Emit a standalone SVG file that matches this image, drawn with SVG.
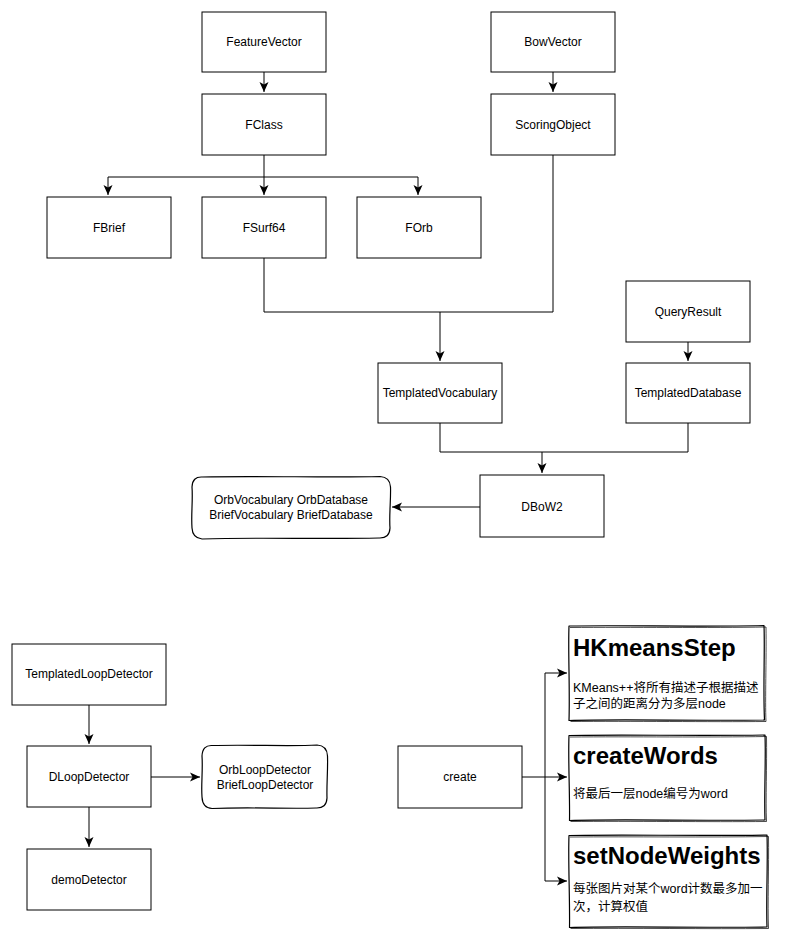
<svg xmlns="http://www.w3.org/2000/svg" width="800" height="941" viewBox="0 0 800 941">
<defs>
<marker id="arr" markerUnits="userSpaceOnUse" markerWidth="12" markerHeight="10" refX="10" refY="5" orient="auto">
<path d="M0,0.5 L10,5 L0,9.5 L2.5,5 Z" fill="#000"/>
</marker>
<style>
.box{fill:#fff;stroke:#000;stroke-width:1}
.sk{fill:#fff;stroke:#000;stroke-width:1.2;stroke-linejoin:round}
.sk2{fill:none;stroke:#000;stroke-width:0.7}
.c{fill:none;stroke:#000;stroke-width:1}
.t{font-family:"Liberation Sans","Noto Sans CJK SC",sans-serif;font-size:12px;fill:#000;text-anchor:middle}
.l{font-family:"Liberation Sans","Noto Sans CJK SC",sans-serif;font-size:12.5px;fill:#000}
.h{font-family:"Liberation Sans","Noto Sans CJK SC",sans-serif;font-size:24px;font-weight:bold;fill:#000}
</style>
</defs>
<rect width="800" height="941" fill="#fff"/>
<g id="connectors">
<path class="c" d="M264,72 V92" marker-end="url(#arr)"/>
<path class="c" d="M553,72 V92" marker-end="url(#arr)"/>
<path class="c" d="M264,155 V195" marker-end="url(#arr)"/>
<path class="c" d="M264,177 H108 V195" marker-end="url(#arr)"/>
<path class="c" d="M264,177 H418 V195" marker-end="url(#arr)"/>
<path class="c" d="M264,258 V312 H440 V361" marker-end="url(#arr)"/>
<path class="c" d="M553,155 V312 H440"/>
<path class="c" d="M688,342 V361" marker-end="url(#arr)"/>
<path class="c" d="M440,423 V452 H542 V473" marker-end="url(#arr)"/>
<path class="c" d="M688,423 V452 H542"/>
<path class="c" d="M480,507 H392" marker-end="url(#arr)"/>
<path class="c" d="M89,705 V744" marker-end="url(#arr)"/>
<path class="c" d="M89,807 V847" marker-end="url(#arr)"/>
<path class="c" d="M151,777 H200" marker-end="url(#arr)"/>
<path class="c" d="M522,777 H567" marker-end="url(#arr)"/>
<path class="c" d="M545,777 V673 H567" marker-end="url(#arr)"/>
<path class="c" d="M545,777 V881 H567" marker-end="url(#arr)"/>
</g>
<g id="FeatureVector"><rect class="box" x="202" y="12" width="124" height="60"/><text class="t" x="264" y="46">FeatureVector</text></g>
<g id="BowVector"><rect class="box" x="491" y="12" width="124" height="60"/><text class="t" x="553" y="46">BowVector</text></g>
<g id="FClass"><rect class="box" x="202" y="94" width="124" height="61"/><text class="t" x="264" y="129">FClass</text></g>
<g id="ScoringObject"><rect class="box" x="491" y="94" width="124" height="61"/><text class="t" x="553" y="129">ScoringObject</text></g>
<g id="FBrief"><rect class="box" x="47" y="197" width="124" height="61"/><text class="t" x="109" y="232">FBrief</text></g>
<g id="FSurf64"><rect class="box" x="202" y="197" width="124" height="61"/><text class="t" x="264" y="232">FSurf64</text></g>
<g id="FOrb"><rect class="box" x="357" y="197" width="124" height="61"/><text class="t" x="419" y="232">FOrb</text></g>
<g id="QueryResult"><rect class="box" x="626" y="281" width="124" height="61"/><text class="t" x="688" y="316">QueryResult</text></g>
<g id="TemplatedVocabulary"><rect class="box" x="378" y="363" width="124" height="60"/><text class="t" x="440" y="397">TemplatedVocabulary</text></g>
<g id="TemplatedDatabase"><rect class="box" x="626" y="363" width="124" height="60"/><text class="t" x="688" y="397">TemplatedDatabase</text></g>
<g id="DBoW2"><rect class="box" x="480" y="475" width="124" height="62"/><text class="t" x="542" y="511">DBoW2</text></g>
<g id="OrbVocabulary">
<path class="sk" d="M202,477 C260,475.5 330,478 380,476.5 Q390,477 390.5,487 C391,500 389,515 390,528 Q389.5,538.5 379,538 C320,539.5 260,537 202,539 Q192.5,538 192,528 C191,515 193,500 192,487 Q192.5,476.5 202,477 Z"/>
<text class="t" x="291" y="504">OrbVocabulary OrbDatabase</text>
<text class="t" x="291" y="519">BriefVocabulary BriefDatabase</text>
</g>
<g id="TemplatedLoopDetector"><rect class="box" x="12" y="644" width="154" height="61"/><text class="t" x="89" y="678">TemplatedLoopDetector</text></g>
<g id="DLoopDetector"><rect class="box" x="27" y="746" width="124" height="61"/><text class="t" x="89" y="781">DLoopDetector</text></g>
<g id="demoDetector"><rect class="box" x="27" y="849" width="124" height="61"/><text class="t" x="89" y="884">demoDetector</text></g>
<g id="OrbLoopDetector">
<path class="sk" d="M212,745.5 C250,744.5 290,746.5 317,745 Q327,745.5 327.5,756 C328,770 326.5,785 327,798 Q326.5,808.5 316,808 C290,809 250,807 212,808.5 Q202.5,808 202,797 C201,785 203,770 202,756 Q202.5,745 212,745.5 Z"/>
<text class="t" x="265" y="774">OrbLoopDetector</text>
<text class="t" x="265" y="789">BriefLoopDetector</text>
</g>
<g id="create"><rect class="box" x="398" y="746" width="124" height="62"/><text class="t" x="460" y="781">create</text></g>
<g id="HKmeansStep">
<path class="sk" d="M569,626 C620,625 700,627 764,625.5 C765,650 763,690 764.5,720 C700,721 620,719 569,720.5 C570,690 568,650 569,626 Z"/>
<path class="sk2" d="M570,627.5 C630,627 710,628 766,627 C766.5,660 765,700 766,721.5 C710,722 630,721 570.5,721.5"/>
<text class="h" x="573" y="656">HKmeansStep</text>
<text class="l" x="573" y="692">KMeans++将所有描述子根据描述</text>
<text class="l" x="573" y="708">子之间的距离分为多层node</text>
</g>
<g id="createWords">
<path class="sk" d="M569,735.5 C620,734.5 700,736 765,735 C766,760 764,795 765,820 C700,821 620,819 569.5,820.5 C570,795 568,760 569,735.5 Z"/>
<path class="sk2" d="M570,737 C630,736.5 710,737.5 766.5,736.5 C767,765 765.5,800 766.5,821.5 C710,822 630,821 570.5,821.5"/>
<text class="h" x="573" y="764">createWords</text>
<text class="l" x="573" y="798">将最后一层node编号为word</text>
</g>
<g id="setNodeWeights">
<path class="sk" d="M569,835.5 C620,834.5 700,836 767,835 C768,860 766,900 767,927 C700,928 620,926 569.5,927.5 C570,900 568,860 569,835.5 Z"/>
<path class="sk2" d="M570,837 C630,836.5 710,837.5 768.5,836.5 C769,865 767.5,905 768.5,928.5 C710,929 630,928 570.5,928.5"/>
<text class="h" x="573" y="864">setNodeWeights</text>
<text class="l" x="573" y="893">每张图片对某个word计数最多加一</text>
<text class="l" x="573" y="911">次，计算权值</text>
</g>
</svg>
